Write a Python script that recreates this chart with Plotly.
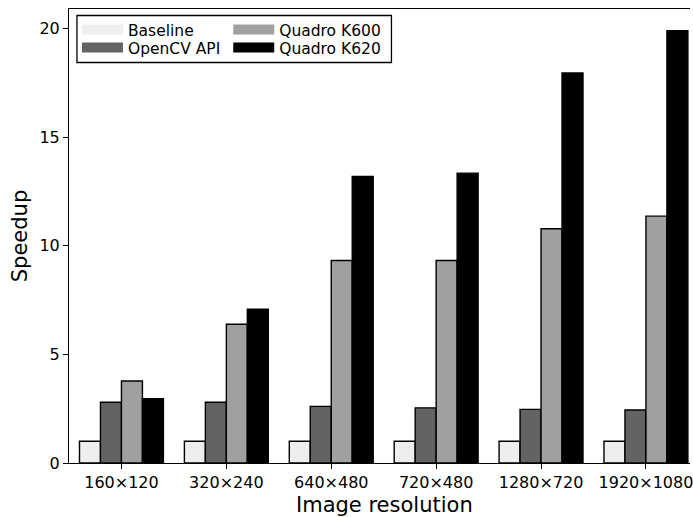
import plotly.graph_objects as go

categories = ["160×120", "320×240", "640×480", "720×480", "1280×720", "1920×1080"]
baseline = [1.0, 1.0, 1.0, 1.0, 1.0, 1.0]
opencv_api = [2.80, 2.80, 2.61, 2.54, 2.47, 2.44]
quadro_k600 = [3.78, 6.39, 9.33, 9.33, 10.79, 11.37]
quadro_k620 = [2.96, 7.08, 13.20, 13.35, 17.96, 19.91]

series_names = ["Baseline", "OpenCV API", "Quadro K600", "Quadro K620"]
series_values = [baseline, opencv_api, quadro_k600, quadro_k620]
colors = ["#eeeeee", "#636363", "#a0a0a0", "#000000"]

W, H = 693, 517
ML, MR, MT, MB = 69, 0, 9, 54
PW, PH = W - ML - MR, H - MT - MB
FONT = "DejaVu Sans"

def px_x(p):
    return (p - ML) / PW

def px_y(p):
    return (H - MB - p) / PH

fig = go.Figure()
for name, vals, col in zip(series_names, series_values, colors):
    fig.add_trace(go.Bar(
        x=list(range(len(categories))), y=vals, name=name,
        marker=dict(color=col, line=dict(color="#000000", width=1.4)),
        showlegend=False,
    ))

# legend entries (swatches without edge), laid out as 2 columns like the original
legend_pos = {
    "Baseline": (77, 30),
    "OpenCV API": (77, 48),
    "Quadro K600": (229, 30),
    "Quadro K620": (229, 48),
}
legends = {}
for i, (name, col) in enumerate(zip(series_names, colors)):
    key = "legend" if i == 0 else f"legend{i+1}"
    fig.add_trace(go.Scatter(
        x=[None], y=[None], mode="lines", name=name,
        line=dict(color=col, width=12), legend=key, showlegend=True,
    ))
    lx, ly = legend_pos[name]
    legends[key] = dict(
        x=px_x(lx), y=px_y(ly), xanchor="left", yanchor="middle",
        bgcolor="rgba(0,0,0,0)", borderwidth=0, itemwidth=41,
        font=dict(family=FONT, size=15.5, color="#000000"),
    )

fig.update_layout(**legends)

fig.add_shape(type="rect", xref="paper", yref="paper",
              x0=px_x(77), x1=px_x(393), y0=px_y(62.5), y1=px_y(15.5),
              line=dict(color="#000000", width=1.3), fillcolor="rgba(0,0,0,0)")

fig.update_layout(
    width=W, height=H,
    margin=dict(l=ML, r=MR, t=MT, b=MB, pad=0),
    plot_bgcolor="#ffffff", paper_bgcolor="#ffffff",
    barmode="group", bargap=0.2, bargroupgap=0,
    font=dict(family=FONT, size=16, color="#000000"),
    xaxis=dict(
        range=[-0.5, 5.42], tickmode="array",
        tickvals=list(range(len(categories))), ticktext=categories,
        showline=True, linecolor="#000000", linewidth=1.1, mirror=True,
        ticks="outside", ticklen=5, tickwidth=1.1, tickcolor="#000000",
        showgrid=False, zeroline=False, ticklabeloverflow="allow",
        tickfont=dict(family=FONT, size=16, color="#000000"),
    ),
    yaxis=dict(
        range=[0, 20.91], tickmode="array", tickvals=[0, 5, 10, 15, 20],
        showline=True, linecolor="#000000", linewidth=1.1, mirror=False,
        ticks="outside", ticklen=5, tickwidth=1.1, tickcolor="#000000",
        showgrid=False, zeroline=False,
        tickfont=dict(family=FONT, size=16, color="#000000"),
    ),
    annotations=[
        dict(text="Image resolution", xref="paper", yref="paper",
             x=px_x(386), y=px_y(504.5), xanchor="center", yanchor="middle",
             showarrow=False, font=dict(family=FONT, size=21, color="#000000")),
        dict(text="Speedup", xref="paper", yref="paper",
             x=px_x(20), y=px_y(236), xanchor="center", yanchor="middle",
             textangle=-90, showarrow=False,
             font=dict(family=FONT, size=21, color="#000000")),
    ],
)

fig.write_html(
    "out.html",
    config={"displayModeBar": False},
    post_script="document.body.style.margin='0';document.body.style.overflow='hidden';"
                "document.documentElement.style.overflow='hidden';",
)
